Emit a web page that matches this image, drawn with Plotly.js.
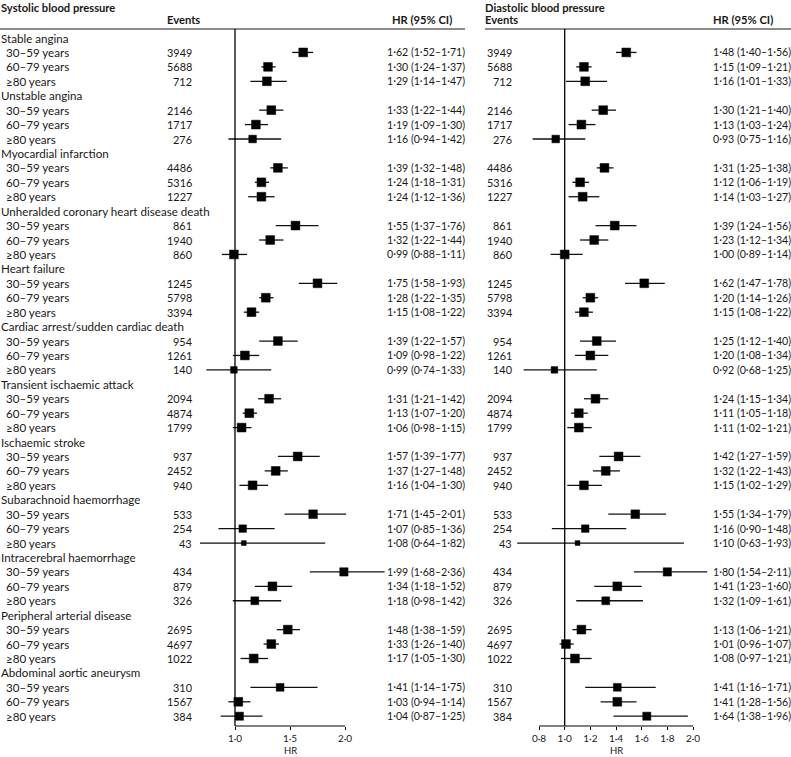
<!DOCTYPE html>
<html>
<head>
<meta charset="utf-8">
<script src="https://cdn.plot.ly/plotly-3.0.1.min.js"></script>
<style>html,body{margin:0;padding:0;background:#fff;}#chart{width:791px;height:757px;}</style>
</head>
<body>
<div id="chart"></div>
<script>
// ---------------- DATA ----------------
const categories = [
  'Stable angina',
  'Unstable angina',
  'Myocardial infarction',
  'Unheralded coronary heart disease death',
  'Heart failure',
  'Cardiac arrest/sudden cardiac death',
  'Transient ischaemic attack',
  'Ischaemic stroke',
  'Subarachnoid haemorrhage',
  'Intracerebral haemorrhage',
  'Peripheral arterial disease',
  'Abdominal aortic aneurysm'
];
const ageGroups = ['30–59 years', '60–79 years', '≥80 years'];

const events = [
  3949, 5688, 712,
  2146, 1717, 276,
  4486, 5316, 1227,
  861, 1940, 860,
  1245, 5798, 3394,
  954, 1261, 140,
  2094, 4874, 1799,
  937, 2452, 940,
  533, 254, 43,
  434, 879, 326,
  2695, 4697, 1022,
  310, 1567, 384
];

const sbpHR = [
  1.62, 1.30, 1.29,
  1.33, 1.19, 1.16,
  1.39, 1.24, 1.24,
  1.55, 1.32, 0.99,
  1.75, 1.28, 1.15,
  1.39, 1.09, 0.99,
  1.31, 1.13, 1.06,
  1.57, 1.37, 1.16,
  1.71, 1.07, 1.08,
  1.99, 1.34, 1.18,
  1.48, 1.33, 1.17,
  1.41, 1.03, 1.04
];
const sbpLo = [
  1.52, 1.24, 1.14,
  1.22, 1.09, 0.94,
  1.32, 1.18, 1.12,
  1.37, 1.22, 0.88,
  1.58, 1.22, 1.08,
  1.22, 0.98, 0.74,
  1.21, 1.07, 0.98,
  1.39, 1.27, 1.04,
  1.45, 0.85, 0.64,
  1.68, 1.18, 0.98,
  1.38, 1.26, 1.05,
  1.14, 0.94, 0.87
];
const sbpHi = [
  1.71, 1.37, 1.47,
  1.44, 1.30, 1.42,
  1.48, 1.31, 1.36,
  1.76, 1.44, 1.11,
  1.93, 1.35, 1.22,
  1.57, 1.22, 1.33,
  1.42, 1.20, 1.15,
  1.77, 1.48, 1.30,
  2.01, 1.36, 1.82,
  2.36, 1.52, 1.42,
  1.59, 1.40, 1.30,
  1.75, 1.14, 1.25
];

const dbpHR = [
  1.48, 1.15, 1.16,
  1.30, 1.13, 0.93,
  1.31, 1.12, 1.14,
  1.39, 1.23, 1.00,
  1.62, 1.20, 1.15,
  1.25, 1.20, 0.92,
  1.24, 1.11, 1.11,
  1.42, 1.32, 1.15,
  1.55, 1.16, 1.10,
  1.80, 1.41, 1.32,
  1.13, 1.01, 1.08,
  1.41, 1.41, 1.64
];
const dbpLo = [
  1.40, 1.09, 1.01,
  1.21, 1.03, 0.75,
  1.25, 1.06, 1.03,
  1.24, 1.12, 0.89,
  1.47, 1.14, 1.08,
  1.12, 1.08, 0.68,
  1.15, 1.05, 1.02,
  1.27, 1.22, 1.02,
  1.34, 0.90, 0.63,
  1.54, 1.23, 1.09,
  1.06, 0.96, 0.97,
  1.16, 1.28, 1.38
];
const dbpHi = [
  1.56, 1.21, 1.33,
  1.40, 1.24, 1.16,
  1.38, 1.19, 1.27,
  1.56, 1.34, 1.14,
  1.78, 1.26, 1.22,
  1.40, 1.34, 1.25,
  1.34, 1.18, 1.21,
  1.59, 1.43, 1.29,
  1.79, 1.48, 1.93,
  2.11, 1.60, 1.61,
  1.21, 1.07, 1.21,
  1.71, 1.56, 1.96
];

const sbpTicks = [1.0, 1.5, 2.0];
const dbpTicks = [0.8, 1.0, 1.2, 1.4, 1.6, 1.8, 2.0];

// ---------------- LAYOUT CONSTANTS (pixels) ----------------
const W = 791, H = 757;
const ROW0 = 38, ROWH = 14.43;   // first row centre, row pitch
const AXIS_PX = 726;              // x axis line
const RULE_PX = 29;               // header rule
const rowAt = p => (p - ROW0) / ROWH;

const FONT = 'Lato, "Open Sans", "Liberation Sans", sans-serif';
const INK = '#1a1718';
const FS = 11.6;      // labels
const FS_NUM = 10.9;  // events
const FS_CI = 10.6;   // HR (95% CI)

// left panel: 1.0 at 235px, 110 px per unit; right: 1.0 at 564.7px, 128.3 px per unit
const LP = {px0: 200, px1: 390, one: 235, unit: 110};
const RP = {px0: 515, px1: 712, one: 564.7, unit: 128.3};
const rangeOf = P => [1 + (P.px0 - P.one) / P.unit, 1 + (P.px1 - P.one) / P.unit];

const dec = v => v.toFixed(2).replace('.', '·');
const dec1 = v => v.toFixed(1).replace('.', '·');
const ciText = (h, l, u) => `${dec(h)} (${dec(l)}–${dec(u)})`;
const markerSize = e => Math.max(4.5, Math.min(8.8, 1.5 * Math.log(e) - 0.8));

// row positions
const rowY = [];
categories.forEach((c, i) => ageGroups.forEach((a, j) => rowY.push(4 * i + 1 + j)));

function forestTrace(hr, lo, hi, xa) {
  return {
    type: 'scatter', mode: 'markers', xaxis: xa, yaxis: 'y',
    x: hr, y: rowY,
    marker: {symbol: 'square', color: '#000', opacity: 1, size: events.map(markerSize), line: {width: 0.5, color: '#000'}},
    error_x: {
      type: 'data', symmetric: false,
      array: hi.map((u, k) => u - hr[k]),
      arrayminus: lo.map((l, k) => hr[k] - l),
      width: 0, thickness: 1.3, color: '#111'
    },
    hoverinfo: 'x+y', showlegend: false
  };
}

const traces = [
  forestTrace(sbpHR, sbpLo, sbpHi, 'x'),
  forestTrace(dbpHR, dbpLo, dbpHi, 'x2')
];

// ---------------- TEXT ----------------
const ann = [];
function txt(text, px, row, anchor, bold, size) {
  ann.push({
    text: bold ? `<b>${text}</b>` : text,
    x: px / W, xref: 'paper', y: row, yref: 'y',
    xanchor: anchor, yanchor: 'middle', showarrow: false,
    font: {family: FONT, size: size || FS, color: INK}, borderpad: 0
  });
}
txt('Systolic blood pressure', 0, rowAt(7), 'left', true, 11.2);
txt('Events', 166, rowAt(19.5), 'left', true, 11.2);
txt('HR (95% CI)', 391, rowAt(19.5), 'left', true, 11.2);
txt('Diastolic blood pressure', 484, rowAt(7), 'left', true, 11.2);
txt('Events', 484, rowAt(19.5), 'left', true, 11.2);
txt('HR (95% CI)', 712, rowAt(19.5), 'left', true, 11.2);

categories.forEach((c, i) => {
  txt(c, 0, 4 * i, 'left', false);
  ageGroups.forEach((a, j) => {
    const k = 3 * i + j, r = 4 * i + 1 + j;
    txt(a, 5, r, 'left', false);
    txt(String(events[k]), 193, r, 'right', false, FS_NUM);
    txt(ciText(sbpHR[k], sbpLo[k], sbpHi[k]), 386, r, 'left', false, FS_CI);
    txt(String(events[k]), 513, r, 'right', false, FS_NUM);
    txt(ciText(dbpHR[k], dbpLo[k], dbpHi[k]), 712, r, 'left', false, FS_CI);
  });
});
// axis titles
ann.push({text: 'HR', x: 1.5, xref: 'x', y: 0, yref: 'paper', xanchor: 'center', yanchor: 'bottom',
  showarrow: false, borderpad: 0, font: {family: FONT, size: 9.5, color: INK}});
ann.push({text: 'HR', x: 1.4, xref: 'x2', y: 0, yref: 'paper', xanchor: 'center', yanchor: 'bottom',
  showarrow: false, borderpad: 0, font: {family: FONT, size: 9.5, color: INK}});

// ---------------- SHAPES ----------------
const axisYpaper = (H - AXIS_PX) / H;
const shapes = [
  // header rules
  {type: 'line', xref: 'paper', yref: 'y', x0: 0, x1: 465 / W, y0: rowAt(RULE_PX), y1: rowAt(RULE_PX), line: {color: INK, width: 1}},
  {type: 'line', xref: 'paper', yref: 'y', x0: 485 / W, x1: 1, y0: rowAt(RULE_PX), y1: rowAt(RULE_PX), line: {color: INK, width: 1}},
  // reference lines at HR = 1
  {type: 'line', xref: 'x', yref: 'y', x0: 1, x1: 1, y0: rowAt(RULE_PX), y1: rowAt(AXIS_PX), line: {color: '#000', width: 1.3}},
  {type: 'line', xref: 'x2', yref: 'y', x0: 1, x1: 1, y0: rowAt(RULE_PX), y1: rowAt(AXIS_PX), line: {color: '#000', width: 1.3}},
  // x axis lines spanning tick range
  {type: 'line', xref: 'x', yref: 'paper', x0: sbpTicks[0], x1: sbpTicks[sbpTicks.length - 1], y0: axisYpaper, y1: axisYpaper, line: {color: '#000', width: 1.2}},
  {type: 'line', xref: 'x2', yref: 'paper', x0: dbpTicks[0], x1: dbpTicks[dbpTicks.length - 1], y0: axisYpaper, y1: axisYpaper, line: {color: '#000', width: 1.2}}
];

const xCommon = {
  showgrid: false, zeroline: false, showline: false,
  ticks: 'outside', ticklen: 3, tickwidth: 1, tickcolor: '#000',
  tickfont: {family: FONT, size: 10, color: INK},
  anchor: 'y', fixedrange: true
};

const layout = {
  width: W, height: H,
  margin: {l: 0, r: 0, t: 0, b: 0, pad: 0},
  paper_bgcolor: '#fff', plot_bgcolor: 'rgba(0,0,0,0)',
  showlegend: false,
  font: {family: FONT, size: FS, color: INK},
  xaxis: Object.assign({}, xCommon, {
    domain: [LP.px0 / W, LP.px1 / W], range: rangeOf(LP),
    tickvals: sbpTicks, ticktext: sbpTicks.map(dec1)
  }),
  xaxis2: Object.assign({}, xCommon, {
    domain: [RP.px0 / W, RP.px1 / W], range: rangeOf(RP),
    tickvals: dbpTicks, ticktext: dbpTicks.map(dec1)
  }),
  yaxis: {
    domain: [axisYpaper, 1], range: [rowAt(AXIS_PX), rowAt(0)],
    showgrid: false, zeroline: false, showline: false, showticklabels: false, ticks: '', fixedrange: true
  },
  annotations: ann,
  shapes: shapes
};

Plotly.newPlot('chart', traces, layout, {displayModeBar: false, staticPlot: true});
</script>
</body>
</html>
